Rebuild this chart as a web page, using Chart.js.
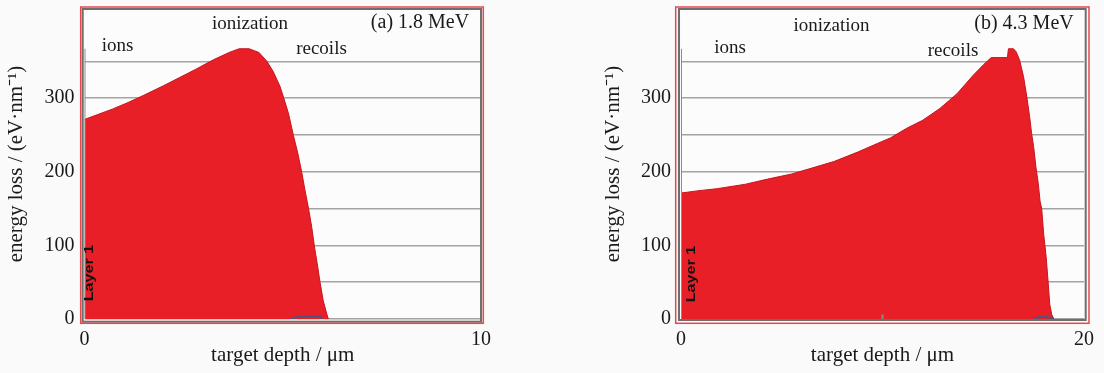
<!DOCTYPE html>
<html>
<head>
<meta charset="utf-8">
<script src="https://cdn.jsdelivr.net/npm/chart.js@4.4.0/dist/chart.umd.min.js"></script>
<style>
  html, body { margin: 0; padding: 0; background: #fafafa; }
  #wrap { position: relative; width: 1104px; height: 373px; overflow: hidden; }
  canvas { position: absolute; top: 0; }
</style>
</head>
<body>
<div id="wrap">
  <canvas id="chartA" width="500" height="373" style="left:0px"></canvas>
  <canvas id="chartB" width="507" height="373" style="left:597px"></canvas>
</div>
<script>
// (a) 1.8 MeV - energy loss by ionization
const depthA = [0, 0.3, 0.7, 1.1, 1.5, 2.0, 2.4, 2.8, 3.25, 3.65, 3.9, 4.15, 4.4, 4.6, 4.76, 4.93,
  5.02, 5.14, 5.27, 5.38, 5.48, 5.56, 5.65, 5.73, 5.80, 5.87, 5.94, 6.02, 6.11, 6.15];
const lossA = [271, 277, 285, 294, 304, 317, 328, 339, 352, 362, 367, 367, 362, 350, 336, 316,
  301, 280, 249, 225, 199, 175, 150, 125, 98, 75, 50, 25, 7, 0];
const recoilDepthA = [5.2, 5.3, 5.5, 5.75, 5.95, 6.0];
const recoilLossA = [0, 2, 3, 4, 3, 0];
const ionDepthA = [0, 0];
const ionLossA = [367, 0];

// (b) 4.3 MeV
const depthB = [0, 0.8, 1.8, 3.2, 4.3, 5.5, 6.5, 7.6, 8.8, 9.8, 10.4, 11.2, 12.0, 12.85, 13.7, 14.5,
  15.0, 15.35, 15.4, 16.2, 16.25, 16.5, 16.63, 16.8, 17.0, 17.16, 17.3, 17.4, 17.5, 17.62, 17.73,
  17.82, 17.9, 18.0, 18.12, 18.22, 18.3, 18.4, 18.5];
const lossB = [171, 174, 177, 183, 190, 197, 205, 214, 227, 239, 246, 259, 270, 286, 306, 331,
  345, 354, 355, 355, 367, 367, 363, 352, 329, 302, 275, 252, 234, 205, 184,
  160, 150, 115, 85, 50, 20, 6, 0];
const recoilDepthB = [17.5, 17.7, 18.0, 18.3, 18.5];
const recoilLossB = [0, 2, 3, 2, 0];
const ionDepthB = [0, 0, 5, 10, 10];
const ionLossB = [367, 0, null, 0, 6];

const yTicks = [0, 50, 100, 150, 200, 250, 300, 350];
const xTicksA = [0, 10];
const xTicksB = [0, 20];

const serif = '"Liberation Serif", "Times New Roman", serif';
const textColor = '#1a1a1a';

function pts(xs, ys) {
  return xs.map((x, i) => ({ x: x, y: ys[i] }));
}

const panelDeco = {
  id: 'panelDeco',
  beforeDraw(chart, args, opts) {
    const { ctx, chartArea: a } = chart;
    ctx.save();
    ctx.fillStyle = '#fcfcfc';
    ctx.fillRect(a.left, a.top, a.right - a.left, a.bottom - a.top);
    ctx.restore();
  },
  afterDraw(chart, args, opts) {
    const { ctx, chartArea: a } = chart;
    ctx.save();
    // dark inner frame
    let f = opts.frame;
    ctx.strokeStyle = '#6e6e6e';
    ctx.lineWidth = 2;
    ctx.strokeRect(a.left + f[0], a.top + f[1], a.right - a.left + f[2] - f[0], a.bottom - a.top + f[3] - f[1]);
    // red outer border
    f = opts.border;
    ctx.strokeStyle = '#e5484d';
    ctx.lineWidth = 1.5;
    ctx.strokeRect(a.left + f[0], a.top + f[1], a.right - a.left + f[2] - f[0], a.bottom - a.top + f[3] - f[1]);

    ctx.fillStyle = textColor;
    ctx.textAlign = 'center';
    ctx.textBaseline = 'middle';
    opts.labels.forEach(l => {
      ctx.font = l.size + 'px ' + serif;
      ctx.fillText(l.text, a.left + l.dx, a.top + l.dy);
    });

    // "Layer 1" tag
    ctx.translate(a.left + opts.layer[0], a.top + opts.layer[1]);
    ctx.rotate(-Math.PI / 2);
    ctx.scale(1.35, 1);
    ctx.font = 'bold 12px "Liberation Sans", Arial, sans-serif';
    ctx.fillStyle = '#111';
    ctx.fillText('Layer 1', 0, 0);
    ctx.restore();
  }
};

function makeChart(id, d) {
  return new Chart(document.getElementById(id), {
    type: 'line',
    data: {
      datasets: [
        {
          data: pts(d.ionX, d.ionY),
          borderColor: '#8c8c8c',
          borderWidth: 2,
          pointRadius: 0,
          fill: false,
          spanGaps: false
        },
        {
          data: pts(d.recX, d.recY),
          borderColor: '#4b5682',
          borderWidth: 2,
          pointRadius: 0,
          fill: false
        },
        {
          data: pts(d.depth, d.loss),
          borderColor: '#c4161d',
          borderWidth: 1,
          backgroundColor: '#e91f27',
          pointRadius: 0,
          fill: 'origin'
        }
      ]
    },
    options: {
      responsive: false,
      animation: false,
      layout: { padding: { top: 9, right: d.padRight, left: 0, bottom: 0 } },
      plugins: {
        legend: { display: false },
        tooltip: { enabled: false },
        panelDeco: d.deco
      },
      scales: {
        x: {
          type: 'linear',
          min: 0,
          max: d.xMax,
          afterBuildTicks: s => { s.ticks = d.xTicks.map(v => ({ value: v })); },
          afterFit: s => { s.height = 54; s.paddingLeft = 0; s.paddingRight = 0; },
          grid: { display: false, drawTicks: false },
          border: { display: false },
          ticks: { padding: 9, maxRotation: 0, color: textColor, font: { family: serif, size: 20 } },
          title: {
            display: true,
            text: 'target depth / μm',
            color: textColor,
            font: { family: serif, size: 21 },
            padding: { top: 0, bottom: 5 }
          }
        },
        y: {
          type: 'linear',
          min: 0,
          max: 421,
          z: 1,
          afterBuildTicks: s => { s.ticks = yTicks.map(v => ({ value: v })); },
          afterFit: s => { s.width = d.yWidth; s.paddingTop = 0; s.paddingBottom = 0; },
          grid: { color: '#a3a3a3', lineWidth: 1.5, drawTicks: false },
          border: { display: false },
          ticks: {
            padding: 10,
            color: textColor,
            font: { family: serif, size: 20 },
            callback: v => (v % 100 === 0 ? v : '')
          },
          title: {
            display: true,
            text: 'energy loss / (eV·nm⁻¹)',
            color: textColor,
            font: { family: serif, size: 21 },
            padding: { top: 4, bottom: 0 }
          }
        }
      }
    },
    plugins: [panelDeco]
  });
}

makeChart('chartA', {
  depth: depthA, loss: lossA,
  recX: recoilDepthA, recY: recoilLossA,
  ionX: ionDepthA, ionY: ionLossA,
  xMax: 10, xTicks: xTicksA,
  yWidth: 84.5, padRight: 19,
  deco: {
    frame: [-1.8, 0, 0, 2.7],
    border: [-3.8, -2, 2.3, 4.3],
    layer: [5.5, 264],
    labels: [
      { text: 'ionization', dx: 165.5, dy: 15, size: 19 },
      { text: 'ions', dx: 33, dy: 37, size: 19 },
      { text: 'recoils', dx: 237, dy: 40, size: 19 },
      { text: '(a) 1.8 MeV', dx: 335.5, dy: 14, size: 20 }
    ]
  }
});

makeChart('chartB', {
  depth: depthB, loss: lossB,
  recX: recoilDepthB, recY: recoilLossB,
  ionX: ionDepthB, ionY: ionLossB,
  xMax: 20, xTicks: xTicksB,
  yWidth: 84, padRight: 20,
  deco: {
    frame: [-2, 0, 1.7, 1],
    border: [-5.3, -2, 5, 4.3],
    layer: [11, 265],
    labels: [
      { text: 'ionization', dx: 150.5, dy: 17, size: 19 },
      { text: 'ions', dx: 49, dy: 39, size: 19 },
      { text: 'recoils', dx: 272, dy: 42, size: 19 },
      { text: '(b) 4.3 MeV', dx: 343, dy: 15, size: 20 }
    ]
  }
});
</script>
</body>
</html>
